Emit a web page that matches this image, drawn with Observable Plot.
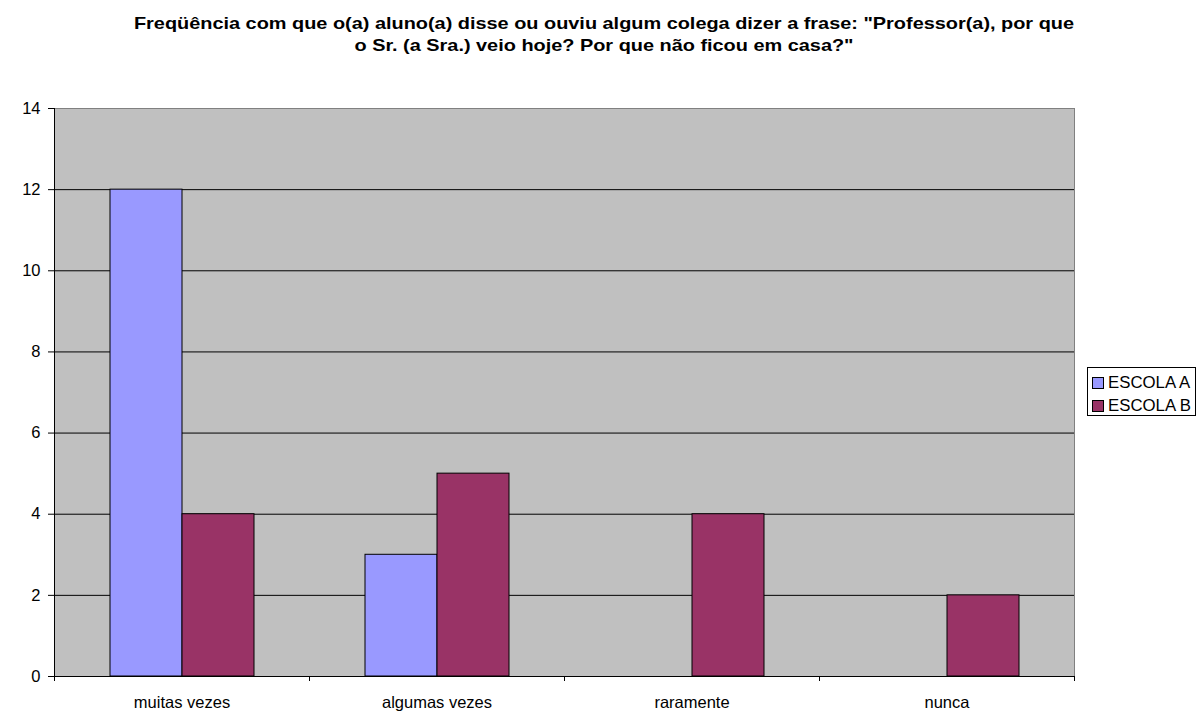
<!DOCTYPE html>
<html>
<head>
<meta charset="utf-8">
<script src="https://cdn.jsdelivr.net/npm/d3@7"></script>
<script src="https://cdn.jsdelivr.net/npm/@observablehq/plot@0.6"></script>
<style>
  html, body { margin: 0; padding: 0; background: #fff; }
  #wrap { position: relative; width: 1204px; height: 728px; font-family: "Liberation Sans", Arial, sans-serif; color: #000; }
  #title { position: absolute; left: 0; width: 1208px; top: 13px; text-align: center; font-weight: bold; font-size: 17px; line-height: 22px; transform: scaleX(1.17); transform-origin: 604px 0; white-space: nowrap; }
  #legend { position: absolute; left: 1087px; top: 367px; width: 107px; height: 47px; border: 1px solid #000; background: #fff; font-size: 16.8px; }
  .row { position: absolute; left: 4px; height: 20px; line-height: 20px; white-space: nowrap; }
  .sw { position: absolute; left: 0; top: 4px; width: 10px; height: 10px; border: 1px solid #000; }
  .lab { position: absolute; left: 16px; top: 0; }
  svg { position: absolute; left: 0; top: 0; }
</style>
</head>
<body>
<div id="wrap">
  <div id="chart"></div>
  <div id="title"></div>
  <div id="legend"></div>
</div>
<script>
const titleLines = [
  "Freqüência com que o(a) aluno(a) disse ou ouviu algum colega dizer a frase: \"Professor(a), por que",
  "o Sr. (a Sra.) veio hoje? Por que não ficou em casa?\""
];
const categories = ["muitas vezes", "algumas vezes", "raramente", "nunca"];
const series = ["ESCOLA A", "ESCOLA B"];
const escolaA = [12, 3, 0, 0];
const escolaB = [4, 5, 4, 2];
const yTicks = [0, 2, 4, 6, 8, 10, 12, 14];
const gridTicks = [2, 4, 6, 8, 10, 12];
const colors = ["#9999FF", "#993366"];

const table = [];
categories.forEach((c, i) => {
  table.push({category: c, series: series[0], value: escolaA[i]});
  table.push({category: c, series: series[1], value: escolaB[i]});
});

const W = 1204, H = 728, mL = 54, mR = 130, mT = 108, mB = 52;
const halfBand = (W - mL - mR) / categories.length / 2;

const chart = Plot.plot({
  width: W, height: H,
  marginTop: mT, marginBottom: mB, marginLeft: mL, marginRight: mR,
  style: {fontFamily: "'Liberation Sans', Arial, sans-serif", fontSize: "16.5px", color: "#000", background: "transparent"},
  fx: {domain: categories, paddingInner: 0, paddingOuter: 0, label: null},
  x: {domain: series, paddingInner: 0, paddingOuter: 0.747, axis: null},
  y: {domain: [0, 14], axis: null},
  color: {domain: series, range: colors},
  marks: [
    Plot.frame({fill: "#C0C0C0", facet: "super"}),
    Plot.ruleY(gridTicks, {stroke: "#000"}),
    Plot.frame({anchor: "top", stroke: "#808080", facet: "super"}),
    Plot.frame({anchor: "right", stroke: "#808080", facet: "super"}),
    Plot.barY(table, {fx: "category", x: "series", y: "value", fill: "series", stroke: "#000", strokeWidth: 1}),
    Plot.frame({anchor: "left", stroke: "#000", facet: "super"}),
    Plot.frame({anchor: "bottom", stroke: "#000", facet: "super"}),
    Plot.axisY({ticks: yTicks, tickSize: 6, tickPadding: 8, label: null, stroke: "#000"}),
    Plot.axisFx({anchor: "bottom", tickSize: 0, tickPadding: 20, label: null}),
    Plot.axisFx({anchor: "bottom", tickSize: 5, tickFormat: () => "", dx: halfBand, label: null}),
    Plot.axisFx({anchor: "bottom", tickSize: 5, tickFormat: () => "", dx: -halfBand, label: null})
  ]
});
document.getElementById("chart").appendChild(chart);

document.getElementById("title").innerHTML = titleLines.map(t => t.replace(/&/g, "&amp;").replace(/</g, "&lt;")).join("<br>");

const legend = document.getElementById("legend");
series.forEach((s, i) => {
  const row = document.createElement("div");
  row.className = "row";
  row.style.top = (5 + i * 23) + "px";
  row.innerHTML = `<span class="sw" style="background:${colors[i]}"></span><span class="lab">${s}</span>`;
  legend.appendChild(row);
});
</script>
</body>
</html>
